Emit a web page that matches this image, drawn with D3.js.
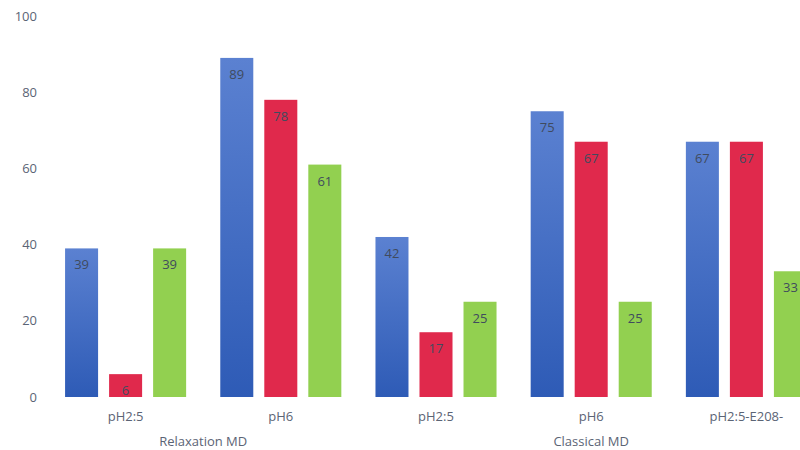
<!DOCTYPE html>
<html><head><meta charset="utf-8">
<script src="https://cdn.jsdelivr.net/npm/d3@7"></script>
<style>body{margin:0;background:#fff;}svg{display:block;font-family:"Open Sans",sans-serif;}</style>
</head><body><svg id="c" width="800" height="450"></svg>
<script>
const categories = ["pH2:5","pH6","pH2:5","pH6","pH2:5-E208-"];
const groups = [{name:"Relaxation MD", from:0, to:1},{name:"Classical MD", from:2, to:4}];
const seriesNames = ["A","B","C"];
const seriesA = [39,89,42,75,67];
const seriesB = [6,78,17,67,67];
const seriesC = [39,61,25,25,33];
const yTicks = [0,20,40,60,80,100];

const svg = d3.select("#c");
const defs = svg.append("defs");
const grad = defs.append("linearGradient").attr("id","blueGrad").attr("x1",0).attr("y1",0).attr("x2",0).attr("y2",1);
grad.append("stop").attr("offset","0%").attr("stop-color","#5b81d1");
grad.append("stop").attr("offset","100%").attr("stop-color","#2e5bb6");

const y = d3.scaleLinear().domain([0,100]).range([397,16]);
const x0 = d3.scaleBand().domain(d3.range(categories.length)).range([48,824]).paddingInner(0.22).paddingOuter(0.11);
const x1 = d3.scaleBand().domain(seriesNames).range([0,x0.bandwidth()]).paddingInner(0.25);
const fills = {A:"url(#blueGrad)", B:"#e0294c", C:"#92d050"};
const data = [seriesA, seriesB, seriesC];

const yAxis = d3.axisLeft(y).tickValues(yTicks).tickSize(0).tickPadding(0);
svg.append("g").attr("transform","translate(37,0)").call(yAxis)
  .call(g=>g.select(".domain").remove())
  .call(g=>g.selectAll("text").attr("fill","#5b6475").attr("font-size","13px").attr("font-family","Open Sans, sans-serif"));

categories.forEach((c,i)=>{
  const g = svg.append("g").attr("transform",`translate(${x0(i)},0)`);
  seriesNames.forEach((s,j)=>{
    const v = data[j][i];
    g.append("rect").attr("x",x1(s)).attr("y",y(v)).attr("width",x1.bandwidth()).attr("height",y(0)-y(v)).attr("fill",fills[s]);
    g.append("text").attr("x",x1(s)+x1.bandwidth()/2).attr("y",y(v)+21).attr("text-anchor","middle")
      .attr("font-size","13px").attr("fill","#404b5e").text(v);
  });
  svg.append("text").attr("x",x0(i)+x0.bandwidth()/2).attr("y",421).attr("text-anchor","middle")
    .attr("font-size","13px").attr("fill","#5b6475").text(c);
});
groups.forEach(gr=>{
  const cx = (x0(gr.from)+x0(gr.to)+x0.bandwidth())/2;
  svg.append("text").attr("x",cx).attr("y",446).attr("text-anchor","middle")
    .attr("font-size","13px").attr("fill","#5b6475").text(gr.name);
});
</script></body></html>
